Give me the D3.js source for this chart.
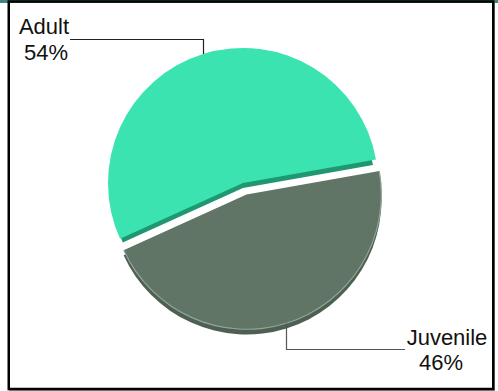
<!DOCTYPE html>
<html>
<head>
<meta charset="utf-8">
<script src="https://cdn.jsdelivr.net/npm/d3@7/dist/d3.min.js"></script>
<style>
  html, body { margin: 0; padding: 0; background: #fff; }
  svg { display: block; }
</style>
</head>
<body>
<svg id="chart" width="498" height="391"></svg>
<script>
const categories = ["Adult", "Juvenile"];
const values = [54, 46];
const percentLabels = ["54%", "46%"];
const topColors = ["#3be3b0", "#607566"];
const sideColors = ["#1f9872", "#4d6052"];

const W = 498, H = 391;
const svg = d3.select("#chart");

// frame
svg.append("rect").attr("x", 0).attr("y", 0).attr("width", W).attr("height", 3).attr("fill", "#3f847e");
svg.append("line").attr("x1", 494.5).attr("x2", 494.5).attr("y1", 3).attr("y2", 391).attr("stroke", "#9a9a9a").attr("stroke-width", 1);
svg.append("line").attr("x1", 9).attr("x2", 495).attr("y1", 390.5).attr("y2", 390.5).attr("stroke", "#9a9a9a").attr("stroke-width", 1);
svg.append("rect").attr("x", 8.75).attr("y", 1.5).attr("width", 484.5).attr("height", 387.5)
  .attr("fill", "none").attr("stroke", "#000").attr("stroke-width", 2.5);

const cx = 243, cy = 183, R = 135, depth = 5, explode = [0, 12];
const sideInset = [3, 0];
const highlight = [false, true];
const deg = Math.PI / 180;

const pie = d3.pie().sort(null).value(d => d)
  .startAngle(-114.4 * deg).endAngle((360 - 114.4) * deg);
const arcs = pie(values);
const arcGen = d3.arc().innerRadius(0).outerRadius(R);

const g = svg.append("g").attr("transform", `translate(${cx},${cy})`);

arcs.forEach((a, i) => {
  const mid = (a.startAngle + a.endAngle) / 2;
  const ox = Math.sin(mid) * explode[i];
  const oy = -Math.cos(mid) * explode[i];
  const sg = g.append("g").attr("transform", `translate(${ox},${oy})`);
  const sideArc = d3.arc().innerRadius(0).outerRadius(R - sideInset[i]);
  sg.append("path").attr("d", sideArc(a)).attr("fill", sideColors[i])
    .attr("transform", `translate(0,${depth})`);
  sg.append("path").attr("d", arcGen(a)).attr("fill", topColors[i]);
  if (highlight[i]) {
    const hl = d3.arc().innerRadius(R - 0.8).outerRadius(R + 0.4);
    sg.append("path").attr("d", hl(a)).attr("fill", "#93a597");
  }
});

// labels with leader lines
const labelCfg = [
  { lineY: -144, endX: 70 - cx, nameX: 44 - cx, nameY: 34 - cy, pctX: 46 - cx, pctY: 60 - cy, color: "#222" },
  { lineY: 166, endX: 405 - cx, nameX: 447 - cx, nameY: 345 - cy, pctX: 441 - cx, pctY: 370 - cy, color: "#555" }
];

arcs.forEach((a, i) => {
  const mid = (a.startAngle + a.endAngle) / 2;
  const ox = Math.sin(mid) * explode[i];
  const oy = -Math.cos(mid) * explode[i];
  const px = ox + Math.sin(mid) * R;
  const py = oy - Math.cos(mid) * R;
  const c = labelCfg[i];
  g.append("path")
    .attr("d", `M${Math.round(px) + 0.5},${py}V${c.lineY + 0.5}H${c.endX}`)
    .attr("fill", "none").attr("stroke", c.color).attr("stroke-width", 1.2);
  g.append("text").attr("x", c.nameX).attr("y", c.nameY)
    .attr("text-anchor", "middle")
    .attr("font-family", "Liberation Sans, Arial, sans-serif").attr("font-size", 22)
    .attr("fill", "#111").text(categories[i]);
  g.append("text").attr("x", c.pctX).attr("y", c.pctY)
    .attr("text-anchor", "middle")
    .attr("font-family", "Liberation Sans, Arial, sans-serif").attr("font-size", 22)
    .attr("fill", "#111").text(percentLabels[i]);
});
</script>
</body>
</html>
